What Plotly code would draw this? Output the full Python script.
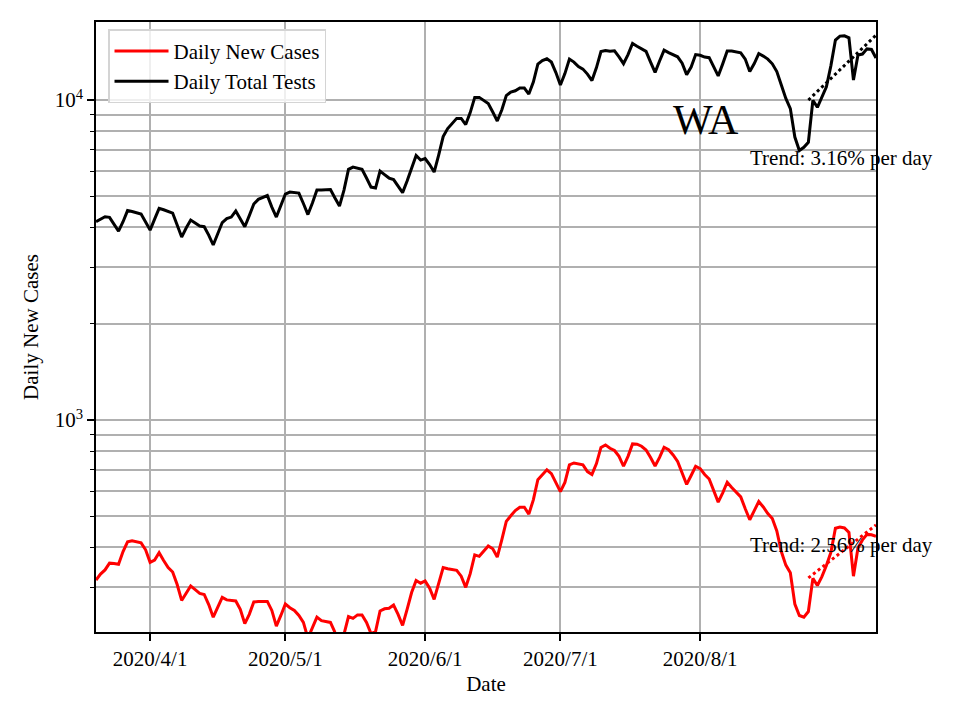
import math
import pandas as pd
import plotly.graph_objects as go

# ---------------- data ----------------
start_date = "2020-03-20"

daily_new_cases = [
    316, 330, 340, 357, 356, 354, 388, 416, 419, 416,
    413, 393, 359, 365, 385, 364, 346, 335, 306, 273,
    288, 303, 295, 287, 285, 265, 242, 260, 279, 274,
    273, 272, 256, 231, 247, 270, 271, 271, 271, 254,
    227, 245, 266, 259, 254, 245, 233, 208, 224, 242,
    236, 235, 233, 217, 203, 214, 243, 240, 246, 246,
    233, 215, 218, 253, 257, 258, 264, 247, 228, 256,
    289, 315, 309, 314, 298, 275, 306, 346, 343, 341,
    339, 325, 300, 331, 379, 375, 388, 404, 396, 373,
    422, 482, 502, 521, 534, 534, 508, 563, 651, 673,
    699, 680, 640, 597, 638, 724, 734, 730, 724, 690,
    676, 731, 821, 836, 816, 803, 770, 717, 770, 842,
    840, 828, 806, 763, 718, 764, 822, 808, 778, 742,
    685, 629, 671, 717, 705, 676, 654, 606, 554, 592,
    639, 615, 595, 575, 528, 488, 521, 556, 535, 510,
    492, 450, 388, 352, 333, 266, 245, 242, 252, 320,
    304, 324, 351, 386, 459, 463, 460, 445, 325, 398,
    422, 439, 438, 433,
]

daily_total_tests = [
    4170, 4247, 4318, 4299, 4097, 3896, 4166, 4515, 4483, 4444,
    4402, 4157, 3924, 4247, 4587, 4541, 4483, 4435, 4068, 3731,
    3981, 4217, 4127, 4039, 4019, 3785, 3524, 3813, 4142, 4263,
    4309, 4499, 4247, 4019, 4355, 4732, 4895, 4977, 5031, 4630,
    4309, 4681, 5085, 5158, 5136, 5121, 4750, 4387, 4767, 5233,
    5233, 5252, 5252, 4941, 4664, 5233, 6073, 6175, 6131, 6073,
    5705, 5347, 5309, 5999, 5850, 5705, 5645, 5405, 5139, 5585,
    6108, 6709, 6494, 6565, 6287, 5957, 6732, 7690, 8146, 8476,
    8766, 8766, 8384, 9141, 10196, 10196, 9978, 9752, 9173, 8600,
    9306, 10330, 10593, 10692, 10902, 10902, 10442, 11384, 12956, 13285,
    13460, 13145, 12186, 11141, 12099, 13430, 13145, 12723, 12497, 12055,
    11507, 12632, 14178, 14281, 14200, 14252, 13646, 12994, 13866, 15019,
    14728, 14436, 14200, 13145, 12203, 13243, 14330, 14075, 13824, 13656,
    13049, 12011, 12680, 13876, 13804, 13628, 13569, 12680, 11899, 12976,
    14230, 14230, 14139, 14048, 13430, 12275, 13010, 13976, 13725, 13430,
    12980, 12275, 11141, 10123, 9406, 7663, 6954, 7121, 7382, 9978,
    9495, 10254, 11005, 12815, 15399, 15849, 15882, 15646, 11548, 13824,
    13925, 14454, 14391, 13532,
]

dates = pd.date_range(start_date, periods=len(daily_new_cases), freq="D")

trend_dates = ["2020-08-25", "2020-09-09"]
trend_cases = [321, 470]
trend_tests = [10000, 15950]
trend_case_label = "Trend: 2.56% per day"
trend_test_label = "Trend: 3.16% per day"
state_label = "WA"

x_tick_vals = ["2020-04-01", "2020-05-01", "2020-06-01", "2020-07-01", "2020-08-01"]
x_tick_text = ["2020/4/1", "2020/5/1", "2020/6/1", "2020/7/1", "2020/8/1"]
y_tick_vals = [1000, 10000]
y_tick_text = ["10<sup>3</sup>", "10<sup>4</sup>"]
y_minor_vals = [300, 400, 500, 600, 700, 800, 900,
                2000, 3000, 4000, 5000, 6000, 7000, 8000, 9000]

# ---------------- figure ----------------
FONT = "Liberation Serif, Times New Roman, serif"
GRID = "#b0b0b0"

fig = go.Figure()
fig.add_trace(go.Scatter(x=dates, y=daily_new_cases, mode="lines",
                         name="Daily New Cases",
                         line=dict(color="#ff0000", width=3)))
fig.add_trace(go.Scatter(x=dates, y=daily_total_tests, mode="lines",
                         name="Daily Total Tests",
                         line=dict(color="#000000", width=3)))
fig.add_trace(go.Scatter(x=trend_dates, y=trend_cases, mode="lines",
                         showlegend=False,
                         line=dict(color="#ff0000", width=3, dash="dot")))
fig.add_trace(go.Scatter(x=trend_dates, y=trend_tests, mode="lines",
                         showlegend=False,
                         line=dict(color="#000000", width=3, dash="dot")))

fig.add_annotation(x="2020-08-02 08:00", y=math.log10(8660), text=state_label,
                   showarrow=False, xanchor="center", yanchor="middle",
                   font=dict(family=FONT, size=42, color="black"))
fig.add_annotation(x="2020-08-11 14:00", y=math.log10(6590), text=trend_test_label,
                   showarrow=False, xanchor="left", yanchor="middle",
                   font=dict(family=FONT, size=21, color="black"))
fig.add_annotation(x="2020-08-11 14:00", y=math.log10(406), text=trend_case_label,
                   showarrow=False, xanchor="left", yanchor="middle",
                   font=dict(family=FONT, size=21, color="black"))

# page body has an 8px margin; size the figure so the plot area lands where the reference has it
fig.update_layout(
    width=952, height=712,
    margin=dict(l=88, r=84, t=14, b=88),
    paper_bgcolor="white", plot_bgcolor="white",
    font=dict(family=FONT, size=21, color="black"),
    showlegend=True,
    legend=dict(x=0.0154, y=0.988, xanchor="left", yanchor="top",
                bgcolor="rgba(255,255,255,0.8)", bordercolor="#d4d4d4",
                borderwidth=1.5, font=dict(family=FONT, size=21),
                tracegroupgap=0, itemwidth=54),
)

fig.update_xaxes(
    range=[dates[0], dates[-1]],
    tickmode="array", tickvals=x_tick_vals, ticktext=x_tick_text,
    ticks="outside", ticklen=7, tickwidth=1.6, tickcolor="black",
    showgrid=True, gridcolor=GRID, gridwidth=1.6,
    showline=True, linecolor="black", linewidth=1.6, mirror=True,
    zeroline=False,
    title=dict(text="Date", font=dict(family=FONT, size=21), standoff=6),
    tickfont=dict(family=FONT, size=21),
)

fig.update_yaxes(
    type="log",
    range=[math.log10(217.5), math.log10(17540)],
    tickmode="array", tickvals=y_tick_vals, ticktext=y_tick_text,
    ticks="outside", ticklen=7, tickwidth=1.6, tickcolor="black",
    showgrid=True, gridcolor=GRID, gridwidth=1.6,
    minor=dict(tickmode="array", tickvals=y_minor_vals, ticks="outside",
               ticklen=4, tickwidth=1.2, tickcolor="black",
               showgrid=True, gridcolor=GRID, gridwidth=1.6),
    showline=True, linecolor="black", linewidth=1.6, mirror=True,
    zeroline=False,
    title=dict(text="Daily New Cases", font=dict(family=FONT, size=21), standoff=10),
    tickfont=dict(family=FONT, size=21),
)

fig.write_html("out.html")
